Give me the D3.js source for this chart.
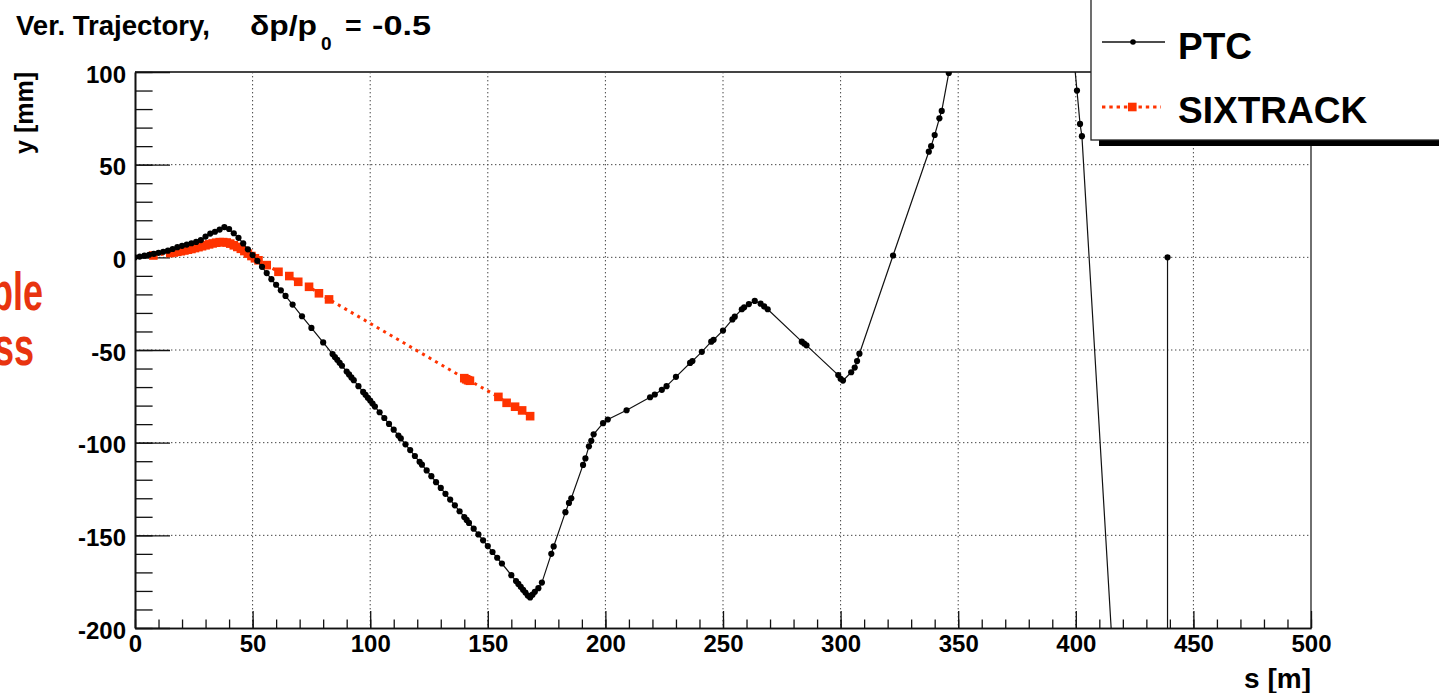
<!DOCTYPE html>
<html><head><meta charset="utf-8">
<script src="https://cdn.jsdelivr.net/npm/d3@7"></script>
<style>
html,body{margin:0;padding:0;background:#fff;overflow:hidden}
text{font-family:"Liberation Sans",Arial,Helvetica,sans-serif;font-weight:bold;white-space:pre}
</style></head>
<body>
<svg id="chart" width="1439" height="693"></svg>
<script>
// ---- data ----
const ptcPoints = [
[0,0],[2,0.4],[4,0.9],[6,1.4],[8,1.9],[10,2.4],[12,3.0],[14,3.6],[16,4.5],[18,5.5],[20,6.2],[22,6.9],[24,7.6],[26,8.3],[28,9.3],[30,11.2],[32,12.8],[34,13.8],[36,15.0],[38,16.3],
[40,15.3],[42,13.0],[44,10.5],[46,7.5],[48,4.3],[50,1.2],[52,-1.9],[54,-5.1],[56,-8.5],[58,-11.8],[60,-14.8],[62,-17.8],[64,-20.8],[67,-25.5],[71,-31.8],[75,-38.1],[80,-45.9],
[84,-52.2],[85,-53.8],[86,-55.3],[87,-56.9],[88,-58.5],[90,-61.6],[91,-63.2],[92,-64.8],[93,-66.3],[95,-69.5],[97,-72.6],[98,-74.2],[99,-75.8],[100,-77.3],[101,-78.9],[102,-80.5],
[104,-83.6],[106,-86.7],[108,-89.9],[110,-93.0],[112,-96.2],[113,-97.7],[115,-100.9],[117,-104.0],[119,-107.2],[121,-110.3],[122,-111.9],[124,-115.0],[126,-118.1],[128,-121.3],
[130,-124.4],[132,-127.6],[134,-130.7],[136,-133.8],[138,-137.0],[140,-140.1],[141,-141.7],[142,-143.3],[144,-146.4],[146,-149.5],[148,-152.7],[150,-155.8],[152,-159.0],[154,-162.1],
[156,-165.2],[160,-171.5],[162,-174.7],[163,-176.2],[164,-177.8],[165,-179.4],[166,-180.9],[167,-182.5],[168,-183.5],[169,-182],[170,-180.5],[171.5,-178.5],[173,-175.5],
[177,-160],[178,-156],[183,-137.5],[184.5,-132.5],[185.5,-130],[190.5,-112],[191.5,-108.5],[193,-102],[194,-99],[195,-95.5],[199,-89.5],[201,-87.5],[209,-82.5],[219,-75.5],
[221,-74],[224,-71.5],[226,-69.5],[230,-64.5],[236,-57],[237,-56],[241,-51],[245,-45.5],[246,-44.5],[250,-39.5],[254,-33.5],[255,-32],[258,-28],[259,-27],[261,-25.2],[263.5,-23.5],
[266,-25],[267.5,-26.5],[269,-28],[283.5,-45.5],[284.5,-46.5],[285.5,-47.5],[299,-63.5],[300,-65.5],[301,-66.5],[304.5,-62],[306,-59.5],[307,-56],[308,-52],[322.3,1],
[337.5,57],[338.5,60],[340,66],[342,75],[343,79],[346,99.5],[348,115],[372,260],[399,110],[400.5,90],[401.8,72],[402.6,65.4],[430,-520],[439,-1500],[439,0]
];
const sixtrackPoints = [
[7.8,1.0],[15,2.3],[16.5,2.6],[18,3.0],[19.5,3.3],[21,3.7],[22.5,4.1],[24,4.5],[25.5,5.0],[27,5.5],[28.5,6.0],[30,6.5],[31.5,7.0],[33,7.5],[34.5,7.9],[36,8.2],[37.5,8.2],
[39,8.0],[40.5,7.4],[42,6.5],[43.5,5.6],[45,4.6],[46.5,3.4],[48,2.0],[49.5,0.7],[51,-0.5],[52.5,-1.6],[56,-4.2],[61,-7.8],[65.6,-10.1],[69.4,-13.2],[74,-15.9],[78.2,-19.4],
[82.5,-22.7],[140,-65.2],[140.8,-65.8],[141.6,-66.3],[142.4,-66.6],[154.5,-75.3],[158,-78.5],[161.6,-80.6],[164.6,-82.6],[168,-85.7]
];
const xMajor = [0,50,100,150,200,250,300,350,400,450,500];
const xMinor = d3.range(0,501,10);
const yMajor = [-200,-150,-100,-50,0,50,100];
const yMinor = d3.range(-200,101,10);
const legendLabels = ["PTC","SIXTRACK"];
const titleParts = ["Ver. Trajectory,", "\u03B4p/p", "0", "=", "-0.5"];

// ---- layout ----
const svg = d3.select("#chart");
const L=135, R=1311, T=72, B=628;
const x = d3.scaleLinear().domain([0,500]).range([L,R]);
const y = d3.scaleLinear().domain([-200,100]).range([B,T]);
const red = "#ff3300";
const fmt = d => String(d);

// grid
const g = svg.append("g");
g.selectAll(".gx").data(xMajor.filter(d=>d>0&&d<500)).enter().append("line")
 .attr("x1",d=>x(d)).attr("x2",d=>x(d)).attr("y1",T).attr("y2",B)
 .attr("stroke","#444").attr("stroke-width",1).attr("stroke-dasharray","1.4,2.6");
g.selectAll(".gy").data(yMajor.filter(d=>d>-200&&d<100)).enter().append("line")
 .attr("x1",L).attr("x2",R).attr("y1",d=>y(d)).attr("y2",d=>y(d))
 .attr("stroke","#444").attr("stroke-width",1).attr("stroke-dasharray","1.4,2.6");

// frame
svg.append("line").attr("x1",L).attr("x2",R).attr("y1",T).attr("y2",T).attr("stroke","#444").attr("stroke-width",2.2);
svg.append("line").attr("x1",R).attr("x2",R).attr("y1",T).attr("y2",B).attr("stroke","#222").attr("stroke-width",1.3);

// axes
function styleAxis(sel){
  sel.select(".domain").attr("stroke","#111").attr("stroke-width",1.6);
  sel.selectAll(".tick line").attr("stroke","#111").attr("stroke-width",1.3);
  sel.selectAll("text").attr("fill","#000").style("font-size","24px").style("font-weight","bold")
     .style("font-family","'Liberation Sans',Arial,sans-serif");
}
svg.append("g").attr("transform",`translate(0,${B})`)
  .call(d3.axisBottom(x).tickValues(xMinor).tickSize(-8.5).tickSizeOuter(0).tickFormat(""))
  .call(styleAxis);
svg.append("g").attr("transform",`translate(0,${B})`)
  .call(d3.axisBottom(x).tickValues(xMajor).tickSize(-17).tickSizeOuter(0).tickPadding(7).tickFormat(fmt))
  .call(styleAxis);
svg.append("g").attr("transform",`translate(${L},0)`)
  .call(d3.axisLeft(y).tickValues(yMinor).tickSize(-17.6).tickSizeOuter(0).tickFormat(""))
  .call(styleAxis);
svg.append("g").attr("transform",`translate(${L},0)`)
  .call(d3.axisLeft(y).tickValues(yMajor).tickSize(-35).tickSizeOuter(0).tickPadding(9).tickFormat(fmt))
  .call(styleAxis)
  .call(s=>s.selectAll("text").attr("dy","0.42em"));

// clip
svg.append("clipPath").attr("id","clip").append("rect").attr("x",L).attr("y",T).attr("width",R-L).attr("height",B-T);
const plot = svg.append("g").attr("clip-path","url(#clip)");

// SIXTRACK
const line = d3.line().x(d=>x(d[0])).y(d=>y(d[1]));
plot.append("path").datum(sixtrackPoints).attr("d",line).attr("fill","none")
  .attr("stroke",red).attr("stroke-width",3).attr("stroke-dasharray","3,4.5");
plot.selectAll(".sq").data(sixtrackPoints).enter().append("rect")
  .attr("x",d=>x(d[0])-4.3).attr("y",d=>y(d[1])-4.3).attr("width",8.6).attr("height",8.6).attr("fill",red);

// PTC
plot.append("path").datum(ptcPoints).attr("d",line).attr("fill","none")
  .attr("stroke","#111").attr("stroke-width",1.2);
plot.selectAll(".pt").data(ptcPoints).enter().append("circle")
  .attr("cx",d=>x(d[0])).attr("cy",d=>y(d[1])).attr("r",3.1).attr("fill","#000");

// title
const tg = svg.append("g").style("font-size","28.5px").attr("fill","#000");
tg.append("text").attr("x",16).attr("y",35).attr("textLength",194).attr("lengthAdjust","spacingAndGlyphs").text(titleParts[0]);
tg.append("text").attr("x",250).attr("y",35).attr("textLength",67).attr("lengthAdjust","spacingAndGlyphs").text(titleParts[1]);
tg.append("text").attr("x",321).attr("y",50).style("font-size","19px").text(titleParts[2]);
tg.append("text").attr("x",345).attr("y",35).text(titleParts[3]);
tg.append("text").attr("x",372).attr("y",35).attr("textLength",59).attr("lengthAdjust","spacingAndGlyphs").text(titleParts[4]);

svg.append("text").attr("transform","translate(33,72) rotate(-90)").attr("text-anchor","end")
  .style("font-size","25px").attr("fill","#000").text("y [mm]");
svg.append("text").attr("x",1311).attr("y",688).attr("text-anchor","end")
  .style("font-size","28px").attr("fill","#000").text("s [m]");
// cut-off label of the chart above
svg.append("text").attr("x",1311).attr("y",3).attr("text-anchor","end")
  .style("font-size","28px").attr("fill","#000").text("s [m]");

// slide text cut at left edge
svg.append("text").attr("transform","translate(43,310) scale(0.68,1)").attr("text-anchor","end")
  .style("font-size","53px").attr("fill","#e8340f").text("ble");
svg.append("text").attr("transform","translate(34,365) scale(0.68,1)").attr("text-anchor","end")
  .style("font-size","53px").attr("fill","#e8340f").text("ss");

// legend
const lg = svg.append("g");
lg.append("rect").attr("x",1099).attr("y",-5).attr("width",400).attr("height",151).attr("fill","#000");
lg.append("rect").attr("x",1091).attr("y",-10).attr("width",400).attr("height",150).attr("fill","#fff").attr("stroke","#222").attr("stroke-width",1.3);
lg.append("line").attr("x1",1102).attr("x2",1165).attr("y1",42).attr("y2",42).attr("stroke","#111").attr("stroke-width",1.3);
lg.append("circle").attr("cx",1133).attr("cy",42).attr("r",2.8).attr("fill","#000");
lg.append("line").attr("x1",1102).attr("x2",1161).attr("y1",107).attr("y2",107).attr("stroke",red).attr("stroke-width",3).attr("stroke-dasharray","3.4,3.9");
lg.append("rect").attr("x",1128).attr("y",102.7).attr("width",8.6).attr("height",8.6).attr("fill",red);
lg.selectAll(".lt").data(legendLabels).enter().append("text")
  .attr("x",1178).attr("y",(d,i)=>59+i*64).style("font-size","37px").attr("fill","#000").text(d=>d);
</script>
</body></html>
